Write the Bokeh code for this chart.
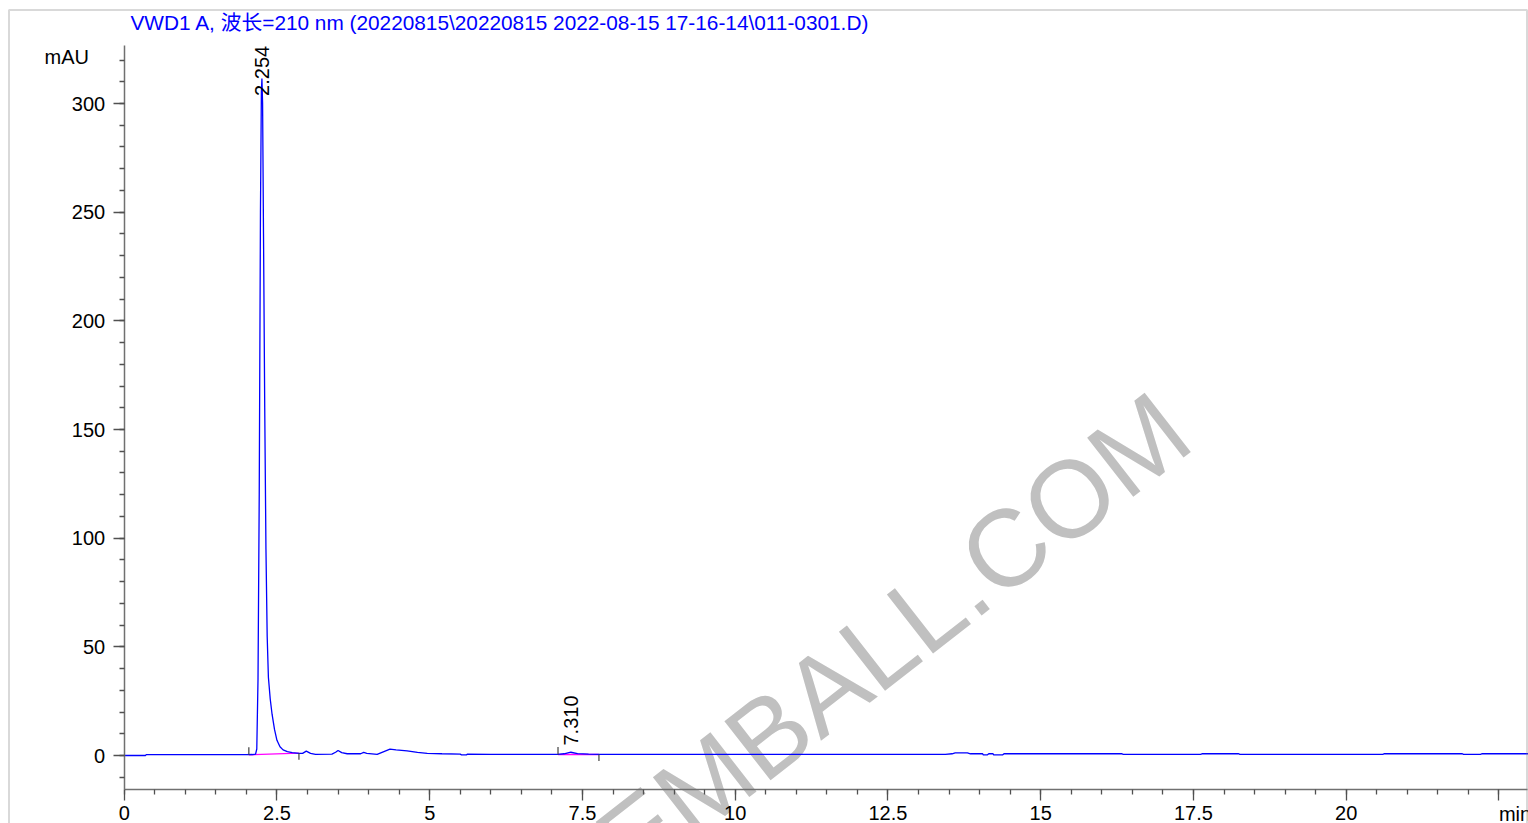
import numpy as np
from bokeh.plotting import figure
from bokeh.models import Range1d, FixedTicker, Label, BoxAnnotation
from bokeh.core.properties import value
from bokeh.embed import file_html
from bokeh.resources import INLINE

# ---------------- data ----------------
title_text = "VWD1 A, 波长=210 nm (20220815\\20220815 2022-08-15 17-16-14\\011-0301.D)"

time_min = [0.0, 0.35, 0.36, 1.0, 2.0, 2.10, 2.15, 2.17, 2.19, 2.21, 2.23, 2.245, 2.254,
            2.265, 2.28, 2.30, 2.32, 2.34, 2.36, 2.39, 2.42, 2.46, 2.50, 2.55, 2.60, 2.67,
            2.75, 2.86, 2.92, 2.98, 3.05, 3.13, 3.40, 3.46, 3.50, 3.56, 3.65, 3.87, 3.92,
            3.97, 4.14, 4.25, 4.35, 4.45, 4.63, 4.80, 4.96, 5.20, 5.50, 5.52, 5.60, 5.62,
            6.00, 7.10, 7.20, 7.31, 7.42, 7.60, 7.80, 10.0, 12.5, 13.44, 13.55, 13.60,
            13.80, 13.85, 14.05, 14.06, 14.13, 14.15, 14.22, 14.23, 14.38, 14.40, 16.33,
            16.35, 17.62, 17.64, 18.24, 18.26, 20.60, 20.62, 21.90, 21.92, 22.20, 22.22,
            23.0]
signal_mau = [0.0, 0.0, 0.4, 0.4, 0.4, 0.45, 0.6, 3.0, 35.0, 120.0, 250.0, 305.0, 311.5,
              300.0, 240.0, 160.0, 95.0, 55.0, 36.0, 26.0, 19.0, 12.0, 7.0, 4.0, 2.6, 1.8,
              1.3, 1.0, 1.0, 2.0, 1.0, 0.5, 0.6, 1.5, 2.3, 1.3, 0.8, 0.8, 1.4,
              1.0, 0.5, 1.8, 2.9, 2.6, 2.1, 1.4, 1.0, 0.8, 0.6, 0.3, 0.3, 0.6,
              0.5, 0.5, 0.8, 1.5, 0.9, 0.6, 0.5, 0.5, 0.5, 0.5, 0.8, 1.2,
              1.2, 0.8, 0.8, 0.3, 0.3, 0.8, 0.8, 0.3, 0.3, 0.8, 0.8,
              0.5, 0.5, 0.8, 0.8, 0.5, 0.5, 0.8, 0.8, 0.5, 0.5, 0.8,
              0.8]

peak_rt = [2.254, 7.310]
peak_label_y = [303.5, 4.6]
peak_start = [2.04, 7.10]
peak_start_base = [0.3, 0.46]
peak_end = [2.86, 7.77]
peak_end_base = [1.05, 0.46]

x_major = [0, 2.5, 5, 7.5, 10, 12.5, 15, 17.5, 20, 22.5]
x_minor = [i * 0.5 for i in range(0, 46)]
y_major = [0, 50, 100, 150, 200, 250, 300]
y_minor = [i * 10 for i in range(-1, 33)]

# ---------------- view geometry ----------------
W, H = 1528, 823
X0_PX, PX_PER_MIN = 123.7, 61.1      # where t=0 sits, and scale
Y0_PX, PX_PER_MAU = 755.0, 652.0 / 300.0
X_AXIS_END = (W - 1 - X0_PX) / PX_PER_MIN
Y_AXIS_BOTTOM = -15.6
Y_AXIS_TOP = 326.7

FONT = "Liberation Sans"
FS = "20px"

p = figure(width=W, height=H, output_backend="svg", toolbar_location=None,
           x_range=Range1d(-X0_PX / PX_PER_MIN, (W - X0_PX) / PX_PER_MIN),
           y_range=Range1d(-(H - Y0_PX) / PX_PER_MAU, Y0_PX / PX_PER_MAU),
           min_border=0)
p.grid.visible = False
p.outline_line_color = None
p.background_fill_color = "white"
p.border_fill_color = "white"

# axes (placed inside the full-canvas frame)
for ax in (p.xaxis[0], p.yaxis[0]):
    ax.axis_line_color = "#707070"
    ax.axis_line_width = 1.5
    ax.major_tick_line_color = "#505050"
    ax.minor_tick_line_color = "#505050"
    ax.major_tick_line_width = 1.3
    ax.minor_tick_line_width = 1.3
    ax.major_tick_in = 0
    ax.major_tick_out = 11
    ax.minor_tick_in = 0
    ax.minor_tick_out = 5
    ax.major_label_text_font = FONT
    ax.major_label_text_font_size = FS
    ax.major_label_text_color = "black"

p.xaxis.fixed_location = Y_AXIS_BOTTOM
p.xaxis.bounds = (0, X_AXIS_END)
p.xaxis.ticker = FixedTicker(ticks=x_major, minor_ticks=x_minor)
p.xaxis.major_label_overrides = {0: "0", 2.5: "2.5", 5: "5", 7.5: "7.5", 10: "10",
                                 12.5: "12.5", 15: "15", 17.5: "17.5", 20: "20", 22.5: ""}
p.xaxis.major_label_standoff = 6

p.yaxis.fixed_location = 0
p.yaxis.bounds = (Y_AXIS_BOTTOM, Y_AXIS_TOP)
p.yaxis.ticker = FixedTicker(ticks=y_major, minor_ticks=y_minor)
p.yaxis.major_label_standoff = 8

# watermark (under the trace)
wm = Label(x=17.19, y=156.0, text="EMBALL.COM", angle=np.deg2rad(38),
           text_align="right", text_baseline="alphabetic",
           text_font=FONT, text_font_size="109px", text_color="#c0c0c0",
           level="underlay")
p.add_layout(wm)

# integration baselines
for s, sb, e, eb in zip(peak_start, peak_start_base, peak_end, peak_end_base):
    p.line([s, e], [sb, eb], line_color="#ff00ff", line_width=1.3)

# trace
p.line(time_min, signal_mau, line_color="#0000ff", line_width=1.3)

# integration tick marks
p.segment(x0=peak_start, y0=peak_start_base, x1=peak_start,
          y1=[b + 3.5 for b in peak_start_base], line_color="#404040", line_width=1.2)
p.segment(x0=peak_end, y0=peak_end_base, x1=peak_end,
          y1=[b - 3.0 for b in peak_end_base], line_color="#404040", line_width=1.2)

# retention time labels
p.text(x=peak_rt, y=peak_label_y, text=[f"{t:.3f}" for t in peak_rt], angle=np.pi / 2,
       text_align="left", text_baseline="middle", text_font=value(FONT),
       text_font_size=FS, text_color="black")

# title, unit labels
p.add_layout(Label(x=(130 - X0_PX) / PX_PER_MIN, y=(Y0_PX - 21.5) / PX_PER_MAU,
                   text=title_text, text_align="left", text_baseline="alphabetic",
                   text_font="Liberation Sans, 'Noto Sans CJK SC'",
                   text_font_size="20.8px", text_color="#0000ff"))
p.add_layout(Label(x=(44 - X0_PX) / PX_PER_MIN, y=(Y0_PX - 56.5) / PX_PER_MAU,
                   text="mAU", text_align="left", text_baseline="alphabetic",
                   text_font=FONT, text_font_size=FS, text_color="black"))
p.add_layout(Label(x=22.5, y=(Y0_PX - 813) / PX_PER_MAU, text="min",
                   text_align="left", text_baseline="alphabetic", text_font=FONT,
                   text_font_size=FS, text_color="black"))

# outer frame box
p.add_layout(BoxAnnotation(left=8.5, right=1526.5, top=9.5, bottom=900,
                           left_units="canvas", right_units="canvas",
                           top_units="canvas", bottom_units="canvas",
                           fill_alpha=0, line_color="#808080", line_width=2,
                           level="overlay"))

open("out.html", "w").write(file_html(p, INLINE))
